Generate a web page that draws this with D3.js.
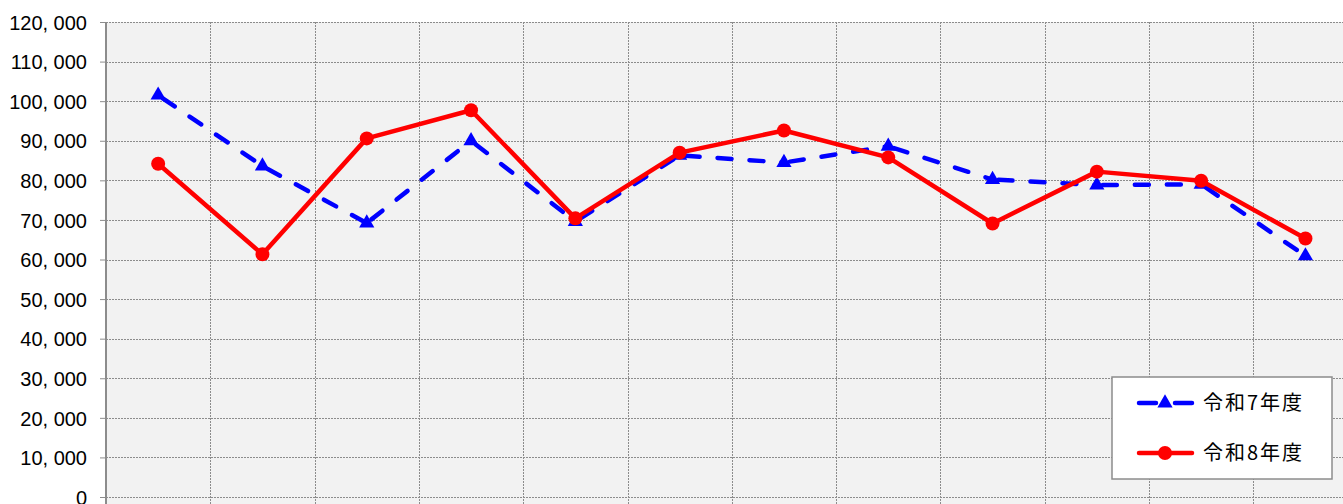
<!DOCTYPE html>
<html>
<head>
<meta charset="utf-8">
<script src="https://cdn.jsdelivr.net/npm/d3@7"></script>
<style>
  body { margin: 0; background: #ffffff; }
  svg { display: block; }
</style>
</head>
<body>
<script>
// data
const months = ["4月", "5月", "6月", "7月", "8月", "9月", "10月", "11月", "12月", "1月", "2月", "3月"];
const seriesNames = ["令和7年度", "令和8年度"];
const r7 = [101500, 83600, 69200, 90000, 69600, 86300, 84500, 88600, 80200, 78800, 79000, 60900];
const r8 = [84200, 61300, 90600, 97700, 70400, 87000, 92600, 85800, 69100, 82200, 79900, 65300];
const yTicks = [0, 10000, 20000, 30000, 40000, 50000, 60000, 70000, 80000, 90000, 100000, 110000, 120000];

const width = 1343, height = 504;
const plotLeft = 106, plotTop = 22, plotBottom = 497;
const band = 104.3;

const svg = d3.select("body").append("svg")
    .attr("width", width)
    .attr("height", height)
    .attr("font-family", "'Noto Sans CJK JP', sans-serif");

const x = d3.scaleBand()
    .domain(months)
    .range([plotLeft, plotLeft + band * months.length])
    .paddingInner(0).paddingOuter(0);

const y = d3.scaleLinear()
    .domain([0, 120000])
    .range([plotBottom, plotTop]);

// plot background
svg.append("rect")
    .attr("x", plotLeft).attr("y", plotTop)
    .attr("width", width - plotLeft).attr("height", height - plotTop)
    .attr("fill", "#f2f2f2");

// horizontal grid
svg.append("g")
    .selectAll("line")
    .data(yTicks)
    .join("line")
    .attr("x1", plotLeft).attr("x2", width)
    .attr("y1", d => Math.round(y(d)) + 0.5).attr("y2", d => Math.round(y(d)) + 0.5)
    .attr("stroke", "#8c8c8c")
    .attr("stroke-width", 1)
    .attr("stroke-dasharray", "2,1");

// vertical grid
svg.append("g")
    .selectAll("line")
    .data(months.slice(1))
    .join("line")
    .attr("x1", d => Math.round(x(d)) + 0.5).attr("x2", d => Math.round(x(d)) + 0.5)
    .attr("y1", plotTop).attr("y2", height)
    .attr("stroke", "#8c8c8c")
    .attr("stroke-width", 1)
    .attr("stroke-dasharray", "2,1");

// y axis
const fmt = d => d3.format(",")(d).replace(/,/g, ", ");
const yAxis = d3.axisLeft(y).tickValues(yTicks).tickSize(6).tickFormat(fmt);
const gy = svg.append("g")
    .attr("transform", `translate(${plotLeft},0)`)
    .call(yAxis);
gy.select(".domain")
    .attr("stroke", "#8c8c8c")
    .attr("stroke-width", 2)
    .attr("d", `M0,${plotTop}V${height}`);
gy.selectAll(".tick line").attr("stroke", "#8c8c8c").attr("stroke-width", 1);
gy.selectAll(".tick text")
    .attr("x", -19)
    .attr("dy", "0.36em")
    .attr("font-size", 20)
    .attr("fill", "#000000");

const cx = d => x(d) + x.bandwidth() / 2;

svg.append("clipPath").attr("id", "plot")
    .append("rect").attr("x", plotLeft).attr("y", 0).attr("width", width - plotLeft).attr("height", height);

const plot = svg.append("g").attr("clip-path", "url(#plot)");

const line = d3.line().x(d => cx(d[0])).y(d => y(d[1]));

// 令和7年度 - dash pattern restarts at each point, like the spreadsheet
const pts7 = months.map((m, i) => [m, r7[i]]);
plot.append("g")
    .selectAll("path")
    .data(d3.pairs(pts7))
    .join("path")
    .attr("d", line)
    .attr("fill", "none")
    .attr("stroke", "#0000ff")
    .attr("stroke-width", 4.5)
    .attr("stroke-linecap", "round")
    .attr("stroke-dasharray", "14,18")
    .attr("stroke-dashoffset", -6);

plot.append("g")
    .selectAll("path")
    .data(pts7)
    .join("path")
    .attr("transform", d => `translate(${cx(d[0])},${y(d[1])})`)
    .attr("d", d3.symbol(d3.symbolTriangle, 100))
    .attr("fill", "#0000ff");

// 令和8年度
const pts8 = months.map((m, i) => [m, r8[i]]);
plot.append("path")
    .datum(pts8)
    .attr("d", line)
    .attr("fill", "none")
    .attr("stroke", "#ff0000")
    .attr("stroke-width", 4.5)
    .attr("stroke-linejoin", "round");

plot.append("g")
    .selectAll("circle")
    .data(pts8)
    .join("circle")
    .attr("cx", d => cx(d[0]))
    .attr("cy", d => y(d[1]))
    .attr("r", 7)
    .attr("fill", "#ff0000");

// legend
const lg = svg.append("g").attr("transform", "translate(1112,377)");
lg.append("rect")
    .attr("width", 220).attr("height", 102)
    .attr("fill", "#ffffff")
    .attr("stroke", "#8c8c8c")
    .attr("stroke-width", 1.5);

const legendRows = [
  {name: seriesNames[0], color: "#0000ff", dash: true, sym: "tri", y: 26},
  {name: seriesNames[1], color: "#ff0000", dash: false, sym: "circle", y: 76}
];
legendRows.forEach(r => {
  lg.append("line")
    .attr("x1", 27).attr("x2", 80)
    .attr("y1", r.y).attr("y2", r.y)
    .attr("stroke", r.color)
    .attr("stroke-width", 4.5)
    .attr("stroke-linecap", "round")
    .attr("stroke-dasharray", r.dash ? "17,19" : null);
  if (r.sym === "tri") {
    lg.append("path")
      .attr("transform", `translate(53,${r.y})`)
      .attr("d", d3.symbol(d3.symbolTriangle, 100))
      .attr("fill", r.color);
  } else {
    lg.append("circle").attr("cx", 53).attr("cy", r.y).attr("r", 7).attr("fill", r.color);
  }
  lg.append("text")
    .attr("x", 91).attr("y", r.y)
    .attr("dy", "0.36em")
    .attr("font-size", 20)
    .attr("letter-spacing", 2)
    .attr("fill", "#000000")
    .text(r.name);
});
</script>
</body>
</html>
